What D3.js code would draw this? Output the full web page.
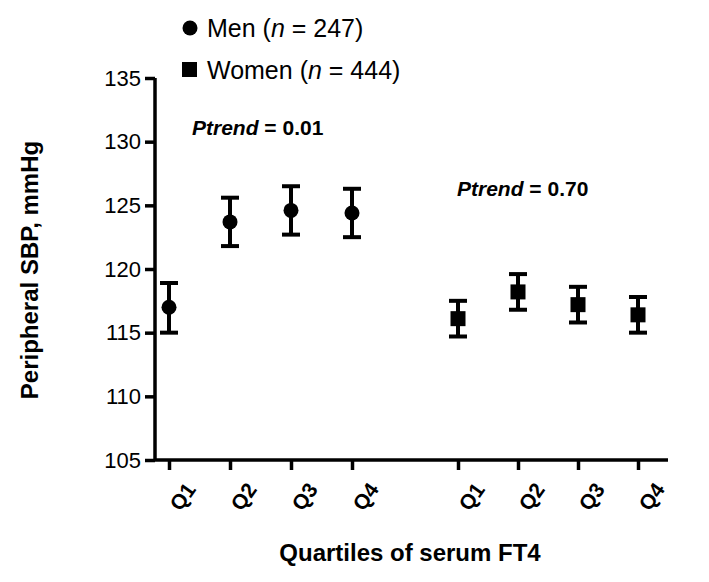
<!DOCTYPE html>
<html><head><meta charset="utf-8">
<script src="https://cdn.jsdelivr.net/npm/d3@7"></script>
<style>body{margin:0;background:#fff}text{font-family:Arial,"Liberation Sans",sans-serif}</style>
</head><body><svg id="c" width="709" height="582"></svg>
<script>
const categories = ["Q1","Q2","Q3","Q4"];
const menMean = [117.0, 123.7, 124.6, 124.4];
const menLow  = [115.0, 121.8, 122.7, 122.5];
const menHigh = [118.9, 125.6, 126.5, 126.3];
const womenMean = [116.1, 118.2, 117.2, 116.4];
const womenLow  = [114.7, 116.8, 115.8, 115.0];
const womenHigh = [117.5, 119.6, 118.6, 117.8];
const yTicks = [105,110,115,120,125,130,135];

const svg = d3.select("#c");
const y = d3.scaleLinear().domain([105,135]).range([460,78]);
const xM = d3.scalePoint().domain(categories).range([169,352]);
const xW = d3.scalePoint().domain(categories).range([458,638]);

const ax = svg.append("g").attr("transform","translate(155,0)")
  .call(d3.axisLeft(y).tickValues(yTicks).tickSize(10).tickPadding(4));
ax.select(".domain").attr("stroke-width",3.5).attr("d","M0,78V460");
ax.selectAll(".tick line").attr("stroke-width",3.5);
ax.selectAll("text").attr("font-size",22).attr("fill","#000");

function xaxis(sc){
  const g = svg.append("g").attr("transform","translate(0,460)")
    .call(d3.axisBottom(sc).tickSize(10).tickPadding(6));
  g.select(".domain").remove();
  g.selectAll(".tick line").attr("stroke-width",3.5);
  g.selectAll("text").attr("font-size",21).attr("font-weight","bold").attr("fill","#000")
    .attr("text-anchor","end").attr("dy","0.35em")
    .attr("transform","translate(8,16) rotate(-55)");
}
svg.append("line").attr("x1",155).attr("x2",668).attr("y1",460).attr("y2",460).attr("stroke","#000").attr("stroke-width",3.5);
xaxis(xM); xaxis(xW);

function series(sc, mean, lo, hi, shape){
  categories.forEach((c,i)=>{
    const x = sc(c);
    const g = svg.append("g").attr("stroke","#000").attr("stroke-width",4);
    g.append("line").attr("x1",x).attr("x2",x).attr("y1",y(lo[i])).attr("y2",y(hi[i]));
    [lo[i],hi[i]].forEach(v=>g.append("line").attr("x1",x-9).attr("x2",x+9).attr("y1",y(v)).attr("y2",y(v)));
    if(shape==="c") svg.append("circle").attr("cx",x).attr("cy",y(mean[i])).attr("r",7.5);
    else svg.append("rect").attr("x",x-7.5).attr("y",y(mean[i])-7.5).attr("width",15).attr("height",15);
  });
}
series(xM, menMean, menLow, menHigh, "c");
series(xW, womenMean, womenLow, womenHigh, "s");

svg.append("circle").attr("cx",190).attr("cy",28).attr("r",7.5);
svg.append("rect").attr("x",182).attr("y",62).attr("width",15).attr("height",15);
const l1 = svg.append("text").attr("x",207).attr("y",37).attr("font-size",25);
l1.append("tspan").text("Men (");l1.append("tspan").attr("font-style","italic").text("n");l1.append("tspan").text(" = 247)");
const l2 = svg.append("text").attr("x",207).attr("y",79).attr("font-size",25);
l2.append("tspan").text("Women (");l2.append("tspan").attr("font-style","italic").text("n");l2.append("tspan").text(" = 444)");

function ptrend(x,yy,val){
  const t = svg.append("text").attr("x",x).attr("y",yy).attr("font-size",21).attr("font-weight","bold");
  t.append("tspan").attr("font-style","italic").text("Ptrend");
  t.append("tspan").text(" = "+val);
}
ptrend(192,135,"0.01");
ptrend(457,196,"0.70");

svg.append("text").attr("x",410).attr("y",561).attr("text-anchor","middle").attr("font-size",24).attr("font-weight","bold").text("Quartiles of serum FT4");
svg.append("text").attr("transform","translate(38,270) rotate(-90)").attr("text-anchor","middle").attr("font-size",24).attr("font-weight","bold").text("Peripheral SBP, mmHg");
</script></body></html>
